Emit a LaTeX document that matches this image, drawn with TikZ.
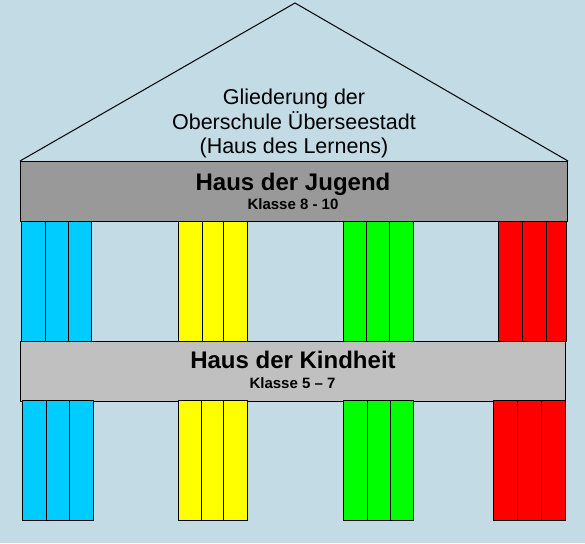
\documentclass[tikz,border=0pt]{standalone}
\usepackage{fontspec}
\setmainfont{Liberation Sans}
\definecolor{bgblue}{RGB}{194,219,228}
\definecolor{bargray}{RGB}{153,153,153}
\definecolor{barlight}{RGB}{192,192,192}
\definecolor{pcyan}{RGB}{0,204,255}
\definecolor{pyellow}{RGB}{255,255,0}
\definecolor{pgreen}{RGB}{0,255,0}
\definecolor{pred}{RGB}{255,0,0}
\newcommand{\drawpillar}[7]{%
  \draw[stripbox,fill=#7] (#1,#5) rectangle (#2,#6);
  \draw[stripbox,fill=#7] (#2,#5) rectangle (#3,#6);
  \draw[stripbox,fill=#7] (#3,#5) rectangle (#4,#6);
}
\begin{document}
\begin{tikzpicture}[x=1pt,y=-1pt,
  stripbox/.style={draw=black,line width=1pt},
  barbox/.style={draw=black,line width=1pt,inner sep=0pt,anchor=north west},
  titletext/.style={font=\fontsize{21.5}{24}\selectfont,anchor=base,inner sep=0pt},
  bartitle/.style={font=\fontsize{24}{28}\bfseries\selectfont,anchor=base,inner sep=0pt},
  barsub/.style={font=\fontsize{15}{18}\bfseries\selectfont,anchor=base,inner sep=0pt}]
\fill[bgblue] (0,0) rectangle (585,543);
\useasboundingbox (0,0) rectangle (585,543);
% top bar
\node[barbox,fill=bargray,minimum width=547pt,minimum height=60pt] (jugend) at (20,161) {};
% roof
\coordinate (apex) at (295,3);
\draw[line width=1pt] (jugend.north west) -- (apex) -- (jugend.north east);
% roof text
\node[titletext] (t1) at (294,104) {Gliederung der};
\node[titletext] (t2) at (294,129) {Oberschule Überseestadt};
\node[titletext] (t3) at (294,153) {(Haus des Lernens)};
% bar texts
\node[bartitle] (j1) at (293,190) {Haus der Jugend};
\node[barsub] (j2) at (293,209.5) {Klasse 8 - 10};
% upper pillars
\drawpillar{21}{45.7}{68.7}{91.7}{221}{341}{pcyan}
\drawpillar{178.3}{202.7}{223.7}{247.3}{221}{341}{pyellow}
\drawpillar{343.7}{366.7}{389.7}{413.3}{221}{341}{pgreen}
\drawpillar{498.7}{522.7}{546.7}{566.7}{221}{341}{pred}
% middle bar
\node[barbox,fill=barlight,minimum width=545pt,minimum height=59.5pt] (kindheit) at (20,341) {};
\node[bartitle] (k1) at (293,368.3) {Haus der Kindheit};
\node[barsub] (k2) at (292.5,388.3) {Klasse 5 – 7};
% lower pillars
\drawpillar{22.3}{46.3}{69.3}{93.3}{400.5}{520}{pcyan}
\drawpillar{178.3}{201.3}{223.3}{247.7}{400.5}{520}{pyellow}
\drawpillar{343.3}{367.3}{390.7}{413.7}{400.5}{520}{pgreen}
\drawpillar{493.3}{517.3}{541.3}{565.7}{400.5}{520}{pred}
\end{tikzpicture}
\end{document}
